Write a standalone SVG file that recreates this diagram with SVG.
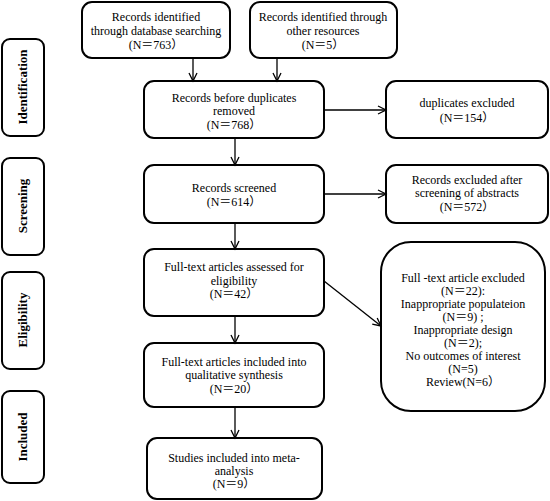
<svg xmlns="http://www.w3.org/2000/svg" width="550" height="501" viewBox="0 0 550 501">
<defs>
<style>
.b{fill:#fff;stroke:#000;stroke-width:2}
.t{font-family:"Liberation Serif","Times New Roman","Noto Sans CJK SC",serif;font-size:12px;fill:#000;text-anchor:middle}
.s{font-family:"Liberation Serif","Times New Roman",serif;font-size:13px;font-weight:bold;fill:#000;text-anchor:middle}
.c{fill:none;stroke:#000;stroke-width:1.3}
</style>
<marker id="a" markerWidth="12" markerHeight="12" refX="9" refY="5" orient="auto" markerUnits="userSpaceOnUse">
<polyline points="1,1 9,5 1,9" fill="none" stroke="#000" stroke-width="1.3"/>
</marker>
</defs>
<g id="stage-identification"><rect class="b" x="2" y="39" width="42" height="97" rx="8"/><text class="s" transform="translate(27,87) rotate(-90)">Identification</text></g>
<g id="stage-screening"><rect class="b" x="2" y="158" width="42" height="97" rx="8"/><text class="s" transform="translate(27,206) rotate(-90)">Screening</text></g>
<g id="stage-eligibility"><rect class="b" x="2" y="272" width="42" height="97" rx="8"/><text class="s" transform="translate(27,320) rotate(-90)">Eligibility</text></g>
<g id="stage-included"><rect class="b" x="2" y="391" width="42" height="92" rx="8"/><text class="s" transform="translate(27,437) rotate(-90)">Included</text></g>
<g id="n-database"><rect class="b" x="82" y="2" width="148" height="56" rx="10"/><text class="t" x="156" y="21">Records identified</text><text class="t" x="156" y="35">through database searching</text><text class="t" x="156" y="49">(N＝763）</text></g>
<g id="n-other"><rect class="b" x="250" y="2" width="147" height="56" rx="10"/><text class="t" x="323" y="21">Records identified through</text><text class="t" x="323" y="35">other resources</text><text class="t" x="323" y="49">(N＝5）</text></g>
<g id="n-before"><rect class="b" x="144" y="81" width="180" height="57" rx="10"/><text class="t" x="234" y="102">Records before duplicates</text><text class="t" x="234" y="115">removed</text><text class="t" x="234" y="129">(N＝768）</text></g>
<g id="n-dup"><rect class="b" x="386" y="81" width="162" height="57" rx="10"/><text class="t" x="467" y="107">duplicates excluded</text><text class="t" x="467" y="122">(N＝154）</text></g>
<g id="n-screened"><rect class="b" x="144" y="165" width="180" height="58" rx="10"/><text class="t" x="234" y="192">Records screened</text><text class="t" x="234" y="206">(N＝614）</text></g>
<g id="n-excl-abs"><rect class="b" x="386" y="165" width="162" height="58" rx="10"/><text class="t" x="467" y="184">Records excluded after</text><text class="t" x="467" y="197">screening of abstracts</text><text class="t" x="467" y="211">(N＝572）</text></g>
<g id="n-fulltext"><rect class="b" x="144" y="249" width="180" height="67" rx="10"/><text class="t" x="234" y="271">Full-text articles  assessed for</text><text class="t" x="234" y="285">eligibility</text><text class="t" x="234" y="298">(N＝42）</text></g>
<g id="n-excl-full"><rect class="b" x="381" y="242" width="164" height="169" rx="30"/>
<text class="t" x="463" y="282">Full -text article excluded</text>
<text class="t" x="463" y="295">(N＝22):</text>
<text class="t" x="463" y="308">Inappropriate populateion</text>
<text class="t" x="463" y="321">(N＝9) ;</text>
<text class="t" x="463" y="334">Inappropriate design</text>
<text class="t" x="463" y="347">(N＝2);</text>
<text class="t" x="463" y="360">No outcomes of interest</text>
<text class="t" x="463" y="373">(N=5)</text>
<text class="t" x="463" y="386">Review(N=6）</text></g>
<g id="n-qual"><rect class="b" x="144" y="343" width="180" height="64" rx="10"/><text class="t" x="234" y="366">Full-text  articles included into</text><text class="t" x="234" y="379">qualitative synthesis</text><text class="t" x="234" y="393">(N＝20）</text></g>
<g id="n-meta"><rect class="b" x="147" y="438" width="175" height="61" rx="10"/><text class="t" x="234" y="462">Studies included  into meta-</text><text class="t" x="234" y="475">analysis</text><text class="t" x="234" y="488">(N＝9）</text></g>
<g id="connectors">
<line class="c" x1="193" y1="58" x2="193" y2="81" marker-end="url(#a)"/>
<line class="c" x1="277" y1="58" x2="277" y2="81" marker-end="url(#a)"/>
<line class="c" x1="324" y1="110" x2="386" y2="110" marker-end="url(#a)"/>
<line class="c" x1="235" y1="138" x2="235" y2="165" marker-end="url(#a)"/>
<line class="c" x1="324" y1="194" x2="386" y2="194" marker-end="url(#a)"/>
<line class="c" x1="235" y1="223" x2="235" y2="249" marker-end="url(#a)"/>
<line class="c" x1="324" y1="281" x2="381" y2="326" marker-end="url(#a)"/>
<line class="c" x1="235" y1="316" x2="235" y2="343" marker-end="url(#a)"/>
<line class="c" x1="235" y1="407" x2="235" y2="438" marker-end="url(#a)"/>
</g>
</svg>
